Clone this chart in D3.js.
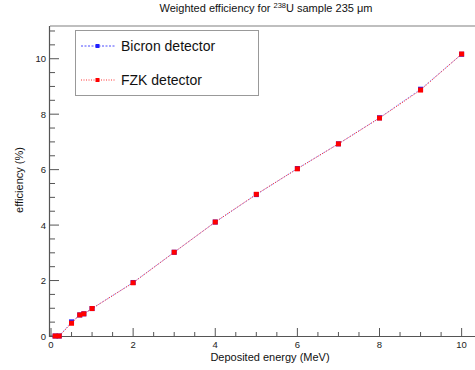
<!DOCTYPE html>
<html>
<head>
<meta charset="utf-8">
<script src="https://cdn.jsdelivr.net/npm/d3@7"></script>
<style>
body { margin: 0; background: #fff; }
svg { font-family: "Liberation Sans", Arial, sans-serif; }
</style>
</head>
<body>
<svg id="chart" width="475" height="370"></svg>
<script>
// energies (MeV)
var energy = [0.1, 0.2, 0.5, 0.7, 0.8, 1, 2, 3, 4, 5, 6, 7, 8, 9, 10];
// efficiency (%)
var bicron = [0, 0, 0.51, 0.76, 0.8, 0.99, 1.93, 3.02, 4.11, 5.1, 6.04, 6.93, 7.87, 8.9, 10.16];
var fzk    = [0, 0, 0.46, 0.76, 0.8, 0.99, 1.92, 3.02, 4.11, 5.11, 6.03, 6.93, 7.86, 8.87, 10.17];
var series = [
    {name: 'Bicron detector', values: bicron, color: '#1f1fff', dash: '2,1.5', op: 0.45},
    {name: 'FZK detector', values: fzk, color: '#ff0000', dash: '1,1.5', op: 0.85}
];

var svg = d3.select('#chart');
var pLeft = 50, pRight = 476, pTop = 26, pBottom = 336;

var x = d3.scaleLinear().domain([0, 10.35]).range([pLeft + 1, pRight]);
var y = d3.scaleLinear().domain([0, 11.18]).range([pBottom, pTop]);

// frame
svg.append('line')
    .attr('x1', pLeft).attr('x2', 475).attr('y1', pTop).attr('y2', pTop)
    .attr('stroke', '#aaa').attr('stroke-width', 1.5)

// x axis
var xMinor = d3.range(0, 10.4, 0.5);
svg.append('g').selectAll('line').data(xMinor).enter().append('line')
    .attr('x1', function(d){ return x(d); })
    .attr('x2', function(d){ return x(d); })
    .attr('y1', pBottom)
    .attr('y2', function(d){ return pBottom - (d % 2 == 0 ? 8 : 4); })
    .attr('stroke', '#555').attr('stroke-width', 1)
svg.append('line')
    .attr('x1', pLeft).attr('x2', 475).attr('y1', pBottom + 0.5).attr('y2', pBottom + 0.5)
    .attr('stroke', '#555').attr('stroke-width', 1.2)
svg.append('g').selectAll('text').data(d3.range(0, 11, 2)).enter().append('text')
    .attr('x', function(d){ return x(d); })
    .attr('y', pBottom + 12)
    .attr('text-anchor', 'middle')
    .attr('font-size', 9.5)
    .attr('fill', '#222')
    .text(function(d){ return d; })

// y axis
var yMinor = d3.range(0, 11.2, 0.5);
svg.append('g').selectAll('line').data(yMinor).enter().append('line')
    .attr('x1', pLeft)
    .attr('x2', function(d){ return pLeft + (d % 2 == 0 ? 9 : 5); })
    .attr('y1', function(d){ return y(d); })
    .attr('y2', function(d){ return y(d); })
    .attr('stroke', '#555').attr('stroke-width', 1)
svg.append('line')
    .attr('x1', pLeft - 0.5).attr('x2', pLeft - 0.5).attr('y1', pTop).attr('y2', pBottom + 1)
    .attr('stroke', '#555').attr('stroke-width', 1.2)
svg.append('g').selectAll('text').data(d3.range(0, 11, 2)).enter().append('text')
    .attr('x', pLeft - 4)
    .attr('y', function(d){ return y(d) + 3.5; })
    .attr('text-anchor', 'end')
    .attr('font-size', 9.5)
    .attr('fill', '#222')
    .text(function(d){ return d; })

// titles
var title = svg.append('text')
    .attr('x', 266).attr('y', 12)
    .attr('text-anchor', 'middle')
    .attr('font-size', 11)
    .attr('fill', '#111')
title.append('tspan').text('Weighted efficiency for ')
title.append('tspan').attr('font-size', 7.5).attr('dy', -4).text('238')
title.append('tspan').attr('dy', 4).text('U sample 235 \u03bcm')

svg.append('text')
    .attr('x', 270).attr('y', 361)
    .attr('text-anchor', 'middle')
    .attr('font-size', 11)
    .attr('fill', '#111')
    .text('Deposited energy (MeV)')

svg.append('text')
    .attr('transform', 'translate(23,180) rotate(-90)')
    .attr('text-anchor', 'middle')
    .attr('font-size', 11)
    .attr('fill', '#111')
    .text('efficiency (%)')

// series
var line = d3.line()
    .x(function(d, i){ return x(energy[i]); })
    .y(function(d){ return y(d); });

series.forEach(function(s){
    svg.append('path')
        .datum(s.values)
        .attr('d', line)
        .attr('fill', 'none')
        .attr('stroke', s.color)
        .attr('stroke-width', 1)
        .attr('stroke-dasharray', s.dash)
        .attr('opacity', s.op)
    svg.append('g').selectAll('rect').data(s.values).enter().append('rect')
        .attr('x', function(d, i){ return x(energy[i]) - 2.5; })
        .attr('y', function(d){ return y(d) - 2.5; })
        .attr('width', 5).attr('height', 5)
        .attr('fill', s.color)
})

// legend
var lg = svg.append('g');
lg.append('rect')
    .attr('x', 75.5).attr('y', 30.5).attr('width', 183).attr('height', 65)
    .attr('fill', '#fff').attr('stroke', '#999').attr('stroke-width', 1)
series.forEach(function(s, i){
    var ly = 46 + i * 34;
    lg.append('line')
        .attr('x1', 81).attr('x2', 115).attr('y1', ly).attr('y2', ly)
        .attr('stroke', s.color).attr('stroke-width', 1)
        .attr('stroke-dasharray', s.dash)
        .attr('opacity', 0.8)
    lg.append('rect')
        .attr('x', 95.5).attr('y', ly - 2).attr('width', 4).attr('height', 4)
        .attr('fill', s.color)
    lg.append('text')
        .attr('x', 121).attr('y', ly + 5)
        .attr('font-size', 14)
        .attr('fill', '#111')
        .text(s.name)
})
</script>
</body>
</html>
